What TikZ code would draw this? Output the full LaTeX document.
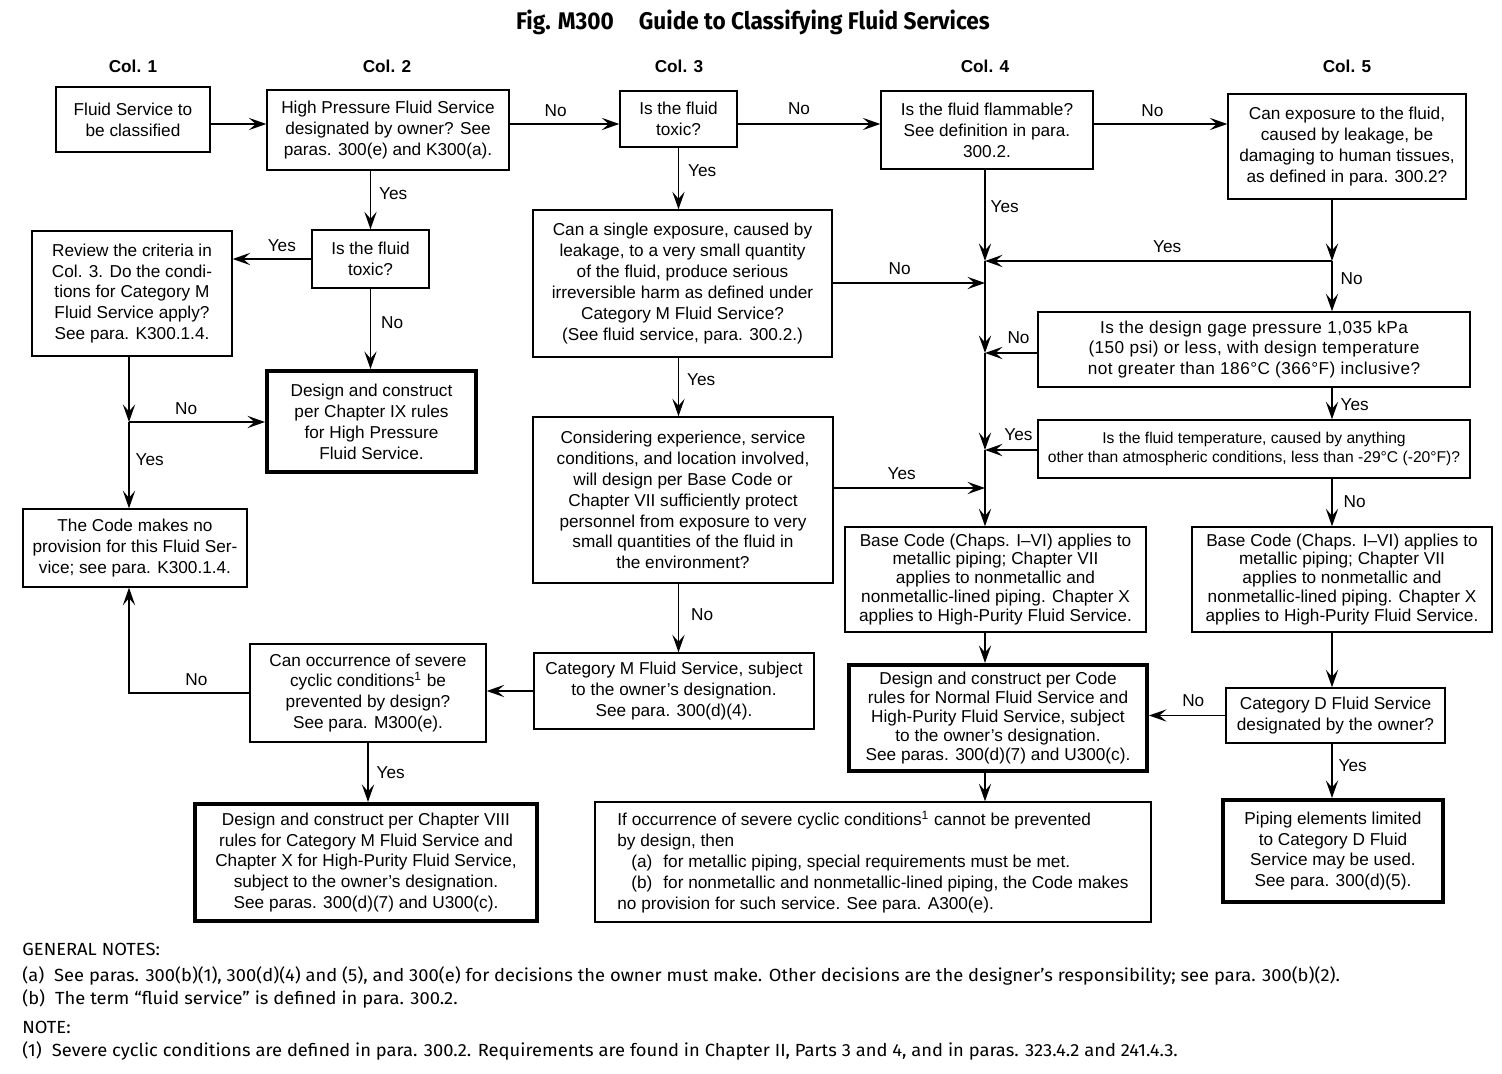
\documentclass[tikz,border=0pt]{standalone}
\usepackage{fontspec}
\setmainfont{Liberation Sans}
\newfontfamily\titlefont[FakeStretch=0.94]{Fira Sans}
\newfontfamily\notefont[FakeStretch=1.045]{Fira Sans}
\newfontfamily\spacedfont[LetterSpace=2.5]{Liberation Sans}
\usetikzlibrary{
    arrows.meta
}

\begin{document}
\begin{tikzpicture}[
    x=0.02cm,
    y=-0.02cm,
    font=\fontsize{9.8}{11.9}\selectfont,
    box/.style={
        rectangle,
        draw=black,
        line width=0.8pt,
        align=center,
        inner sep=0pt,
        fill=white
    },
    endbox/.style={
        box,
        line width=2.3pt
    },
    arrow/.style={
        -{Stealth[length=10pt,width=7pt,inset=4pt]},
        line width=0.8pt,
        draw=black
    },
    lbl/.style={
        inner sep=0pt
    },
    colhead/.style={
        font=\fontsize{9.8}{11.9}\selectfont\bfseries
    },
    notes/.style={
        font=\notefont\fontsize{10}{11.5}\selectfont,
        inner sep=0pt,
        anchor=base west
    }
]

\useasboundingbox (0,0) rectangle (1502,1074);

% =========================================================
% Title and column heads
% =========================================================
\node[font=\titlefont\bfseries\fontsize{13.7}{16}\selectfont] (title) at (753,22)
{Fig. M300\hspace{0.5cm}Guide to Classifying Fluid Services};

\node[colhead] (colone) at (133,66) {Col. 1};
\node[colhead] (coltwo) at (387,66) {Col. 2};
\node[colhead] (colthree) at (679,66) {Col. 3};
\node[colhead] (colfour) at (985,66) {Col. 4};
\node[colhead] (colfive) at (1347,66) {Col. 5};

% =========================================================
% Col. 1 and Col. 2
% =========================================================
\node[box, minimum width=3.08cm, minimum height=1.30cm] (start) at (133,119.5)
{Fluid Service to\\be classified};

\node[box, minimum width=4.84cm, minimum height=1.60cm] (hp) at (388,130)
{High Pressure Fluid Service\\designated by owner? See\\paras. 300(e) and K300(a).};

\node[box, minimum width=2.34cm, minimum height=1.16cm] (toxtwo) at (370.5,259)
{Is the fluid\\toxic?};

\node[box, minimum width=4.00cm, minimum height=2.50cm] (review) at (132,293.5)
{Review the criteria in\\Col. 3. Do the condi-\\tions for Category M\\Fluid Service apply?\\See para. K300.1.4.};

\node[endbox, minimum width=4.18cm, minimum height=2.02cm] (chnine) at (371.5,421.5)
{Design and construct\\per Chapter IX rules\\for High Pressure\\Fluid Service.};

\node[box, minimum width=4.48cm, minimum height=1.56cm] (noprov) at (135,548)
{The Code makes no\\provision for this Fluid Ser-\\vice; see para. K300.1.4.};

\node[box, minimum width=4.72cm, minimum height=1.96cm] (cyclic) at (368,693)
{Can occurrence of severe\\cyclic conditions\textsuperscript{1} be\\prevented by design?\\See para. M300(e).};

\node[endbox, minimum width=6.84cm, minimum height=2.34cm] (cheight) at (366,862.5)
{Design and construct per Chapter VIII\\rules for Category M Fluid Service and\\Chapter X for High-Purity Fluid Service,\\subject to the owner’s designation.\\See paras. 300(d)(7) and U300(c).};

% =========================================================
% Col. 3
% =========================================================
\node[box, minimum width=2.34cm, minimum height=1.12cm] (toxthree) at (678.5,119)
{Is the fluid\\toxic?};

\node[box, minimum width=5.98cm, minimum height=2.94cm] (single) at (682.5,283.5)
{Can a single exposure, caused by\\leakage, to a very small quantity\\of the fluid, produce serious\\irreversible harm as defined under\\Category M Fluid Service?\\(See fluid service, para. 300.2.)};

\node[box, minimum width=6.00cm, minimum height=3.32cm] (consider) at (683,500)
{Considering experience, service\\conditions, and location involved,\\will design per Base Code or\\Chapter VII sufficiently protect\\personnel from exposure to very\\small quantities of the fluid in\\the environment?};

\node[box, minimum width=5.60cm, minimum height=1.52cm] (catm) at (674,691)
{Category M Fluid Service, subject\\to the owner’s designation.\\See para. 300(d)(4).};

% =========================================================
% Col. 4
% =========================================================
\node[box, minimum width=4.24cm, minimum height=1.56cm] (flam) at (987,130)
{Is the fluid flammable?\\See definition in para.\\300.2.};

\node[box, font=\fontsize{9.8}{10.8}\selectfont, minimum width=6.02cm, minimum height=2.10cm] (basefour) at (995.5,579.5)
{Base Code (Chaps. I–VI) applies to\\metallic piping; Chapter VII\\applies to nonmetallic and\\nonmetallic-lined piping. Chapter X\\applies to High-Purity Fluid Service.};

\node[endbox, font=\fontsize{9.8}{10.8}\selectfont, minimum width=5.96cm, minimum height=2.12cm] (normal) at (998,718)
{Design and construct per Code\\rules for Normal Fluid Service and\\High-Purity Fluid Service, subject\\to the owner’s designation.\\See paras. 300(d)(7) and U300(c).};

\node[box, align=left, minimum width=11.12cm, minimum height=2.40cm] (ifocc) at (873,862)
{If occurrence of severe cyclic conditions\textsuperscript{1} cannot be prevented\\
by design, then\\
\hspace*{0.28cm}(a)\hspace{0.22cm}for metallic piping, special requirements must be met.\\
\hspace*{0.28cm}(b)\hspace{0.22cm}for nonmetallic and nonmetallic-lined piping, the Code makes\\
no provision for such service. See para. A300(e).};

% =========================================================
% Col. 5
% =========================================================
\node[box, minimum width=4.76cm, minimum height=2.10cm] (expo) at (1347,146.5)
{Can exposure to the fluid,\\caused by leakage, be\\damaging to human tissues,\\as defined in para. 300.2?};

\node[box, font=\spacedfont\fontsize{9.8}{11.9}\selectfont, minimum width=8.64cm, minimum height=1.50cm] (press) at (1254,349.5)
{Is the design gage pressure 1,035 kPa\\(150 psi) or less, with design temperature\\not greater than 186°C (366°F) inclusive?};

\node[box, font=\fontsize{8.9}{10.8}\selectfont, minimum width=8.64cm, minimum height=1.16cm] (temp) at (1254,449)
{Is the fluid temperature, caused by anything\\other than atmospheric conditions, less than -29°C (-20°F)?};

\node[box, font=\fontsize{9.8}{10.8}\selectfont, minimum width=6.00cm, minimum height=2.10cm] (basefive) at (1342,579.5)
{Base Code (Chaps. I–VI) applies to\\metallic piping; Chapter VII\\applies to nonmetallic and\\nonmetallic-lined piping. Chapter X\\applies to High-Purity Fluid Service.};

\node[box, minimum width=4.38cm, minimum height=1.10cm] (catd) at (1335.5,715.5)
{Category D Fluid Service\\designated by the owner?};

\node[endbox, minimum width=4.40cm, minimum height=2.04cm] (pipd) at (1333,851)
{Piping elements limited\\to Category D Fluid\\Service may be used.\\See para. 300(d)(5).};

% =========================================================
% Junctions
% =========================================================
\coordinate (rowone) at (0,124);
\coordinate (jone) at (129,422);
\coordinate (ja) at (985,261);
\coordinate (jb) at (985,283);
\coordinate (jc) at (985,353);
\coordinate (jd) at (985,450);
\coordinate (je) at (985,488);
\coordinate (jf) at (1332,261);

% =========================================================
% Arrows
% =========================================================
\draw[arrow] (start.east |- rowone) -- (hp.west |- rowone);
\draw[arrow] (hp.east |- rowone) -- node[lbl, pos=0.42, above=0.14cm] {No} (toxthree.west |- rowone);
\draw[arrow] (toxthree.east |- rowone) -- node[lbl, pos=0.43, above=0.18cm] {No} (flam.west |- rowone);
\draw[arrow] (flam.east |- rowone) -- node[lbl, pos=0.44, above=0.14cm] {No} (expo.west |- rowone);

\draw[arrow] (hp.south -| toxtwo) -- node[lbl, pos=0.4, right=0.16cm] {Yes} (toxtwo.north);
\draw[arrow] (toxtwo.west) -- node[lbl, pos=0.375, above=0.14cm] {Yes} (toxtwo.west -| review.east);
\draw[arrow] (toxtwo.south) -- node[lbl, pos=0.42, right=0.2cm] {No} (toxtwo.south |- chnine.north);

\draw[arrow] (review.south -| jone) -- (jone);
\draw[arrow] (jone) -- node[lbl, pos=0.42, above=0.14cm] {No} (chnine.west |- jone);
\draw[arrow] (jone) -- node[lbl, pos=0.44, right=0.12cm] {Yes} (noprov.north -| jone);
\draw[arrow] (cyclic.west) -| node[lbl, pos=0.22, above=0.14cm] {No} (noprov.south -| jone);
\draw[arrow] (cyclic.south) -- node[lbl, pos=0.5, right=0.16cm] {Yes} (cyclic.south |- cheight.north);

\draw[arrow] (toxthree.south) -- node[lbl, pos=0.37, right=0.18cm] {Yes} (toxthree.south |- single.north);
\draw[arrow] (single.south -| toxthree) -- node[lbl, pos=0.37, right=0.16cm] {Yes} (consider.north -| toxthree);
\draw[arrow] (consider.south -| toxthree) -- node[lbl, pos=0.45, right=0.24cm] {No} (catm.north -| toxthree);
\draw[arrow] (catm.west) -- (catm.west -| cyclic.east);
\draw[arrow] (single.east |- jb) -- node[lbl, pos=0.44, above=0.16cm] {No} (jb);
\draw[arrow] (consider.east |- je) -- node[lbl, pos=0.45, above=0.16cm] {Yes} (je);

\draw[arrow] (flam.south -| ja) -- node[lbl, pos=0.41, right=0.1cm] {Yes} (ja);
\draw[arrow] (ja) -- (jc);
\draw[arrow] (jc) -- (jd);
\draw[arrow] (jd) -- (basefour.north -| jd);
\draw[arrow] (basefour.south -| ja) -- (normal.north -| ja);
\draw[arrow] (normal.south -| ja) -- (ifocc.north -| ja);

\draw[arrow] (expo.south -| jf) -- (jf);
\draw[arrow] (jf) -- node[lbl, pos=0.475, above=0.16cm] {Yes} (ja);
\draw[arrow] (jf) -- node[lbl, pos=0.35, right=0.16cm] {No} (press.north -| jf);
\draw[arrow] (press.west |- jc) -- node[lbl, pos=0.36, above=0.18cm] {No} (jc);
\draw[arrow] (press.south -| jf) -- node[lbl, pos=0.55, right=0.16cm] {Yes} (temp.north -| jf);
\draw[arrow] (temp.west |- jd) -- node[lbl, pos=0.36, above=0.18cm] {Yes} (jd);
\draw[arrow] (temp.south -| jf) -- node[lbl, pos=0.49, right=0.22cm] {No} (basefive.north -| jf);
\draw[arrow] (basefive.south -| jf) -- (catd.north -| jf);
\draw[arrow] (catd.west) -- node[lbl, pos=0.42, above=0.16cm] {No} (catd.west -| normal.east);
\draw[arrow] (catd.south -| jf) -- node[lbl, pos=0.41, right=0.12cm] {Yes} (pipd.north -| jf);

% =========================================================
% Notes
% =========================================================
\node[notes] (genhead) at (22,955) {GENERAL NOTES:};
\node[notes] (gena) at (22,981) {(a)\hspace{0.2cm}See paras. 300(b)(1), 300(d)(4) and (5), and 300(e) for decisions the owner must make. Other decisions are the designer’s responsibility; see para. 300(b)(2).};
\node[notes] (genb) at (22,1004) {(b)\hspace{0.2cm}The term “fluid service” is defined in para. 300.2.};
\node[notes] (notehead) at (22,1033) {NOTE:};
\node[notes] (noteone) at (22,1056) {(1)\hspace{0.2cm}Severe cyclic conditions are defined in para. 300.2. Requirements are found in Chapter II, Parts 3 and 4, and in paras. 323.4.2 and 241.4.3.};

\end{tikzpicture}
\end{document}
